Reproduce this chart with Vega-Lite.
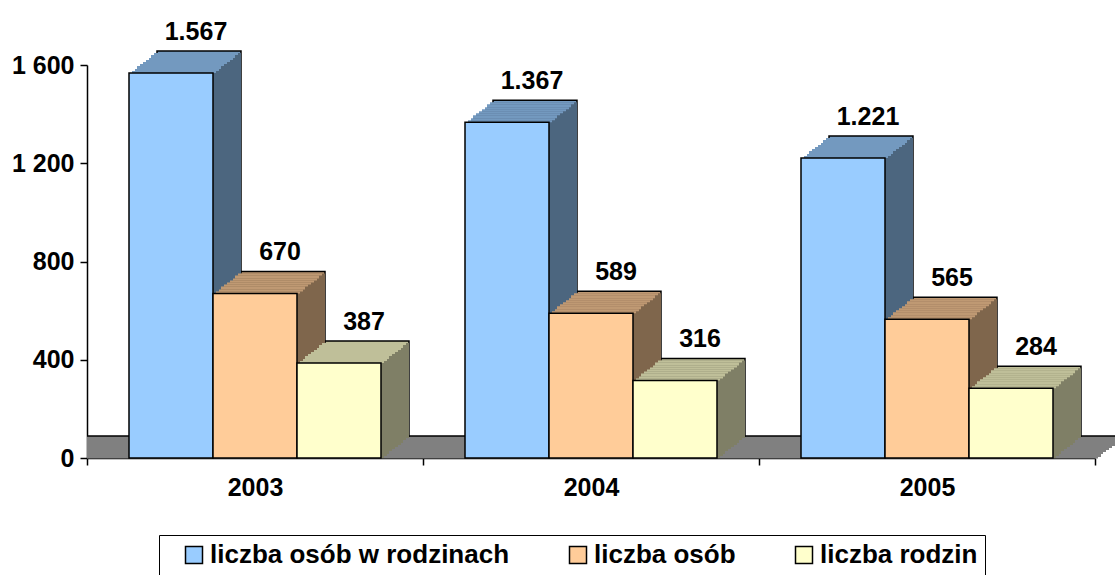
{
  "$schema": "https://vega.github.io/schema/vega-lite/v6.json",
  "width": 1008,
  "height": 393,
  "autosize": "none",
  "padding": {"left": 87, "top": 65, "right": 20, "bottom": 117},
  "background": "white",
  "config": {
    "view": {"stroke": null},
    "font": "Liberation Sans",
    "locale": {"number": {"decimal": ",", "thousands": ".", "grouping": [3], "currency": ["", " zł"]}},
    "axis": {"labelFont": "Liberation Sans", "labelFontWeight": "bold", "labelFontSize": 25, "labelColor": "black", "domainColor": "black", "tickColor": "black", "domainWidth": 1.5, "tickWidth": 1.5, "grid": false, "zindex": 1}
  },
  "datasets": {
    "bars": [
      {"year": "2003", "series": "liczba osób w rodzinach", "value": 1567},
      {"year": "2003", "series": "liczba osób", "value": 670},
      {"year": "2003", "series": "liczba rodzin", "value": 387},
      {"year": "2004", "series": "liczba osób w rodzinach", "value": 1367},
      {"year": "2004", "series": "liczba osób", "value": 589},
      {"year": "2004", "series": "liczba rodzin", "value": 316},
      {"year": "2005", "series": "liczba osób w rodzinach", "value": 1221},
      {"year": "2005", "series": "liczba osób", "value": 565},
      {"year": "2005", "series": "liczba rodzin", "value": 284}
    ],
    "floor": [{"value": 0}]
  },
  "resolve": {"scale": {"color": "independent"}},
  "encoding": {
    "y": {"field": "value", "type": "quantitative", "title": null, "scale": {"domain": [0, 1600], "nice": false}, "axis": {"values": [0, 400, 800, 1200, 1600], "tickSize": 7, "labelExpr": "replace(format(datum.value, ',d'), '.', ' ')", "labelPadding": 6}}
  },
  "layer": [
    {"data": {"name": "floor"}, "layer": [
      {"mark": {"type": "rule", "color": "#808080", "strokeWidth": 3, "xOffset": 28, "yOffset": -20.5}},
      {"mark": {"type": "rule", "color": "#808080", "strokeWidth": 3, "xOffset": 25, "yOffset": -18.5}},
      {"mark": {"type": "rule", "color": "#808080", "strokeWidth": 3, "xOffset": 22, "yOffset": -16.5}},
      {"mark": {"type": "rule", "color": "#808080", "strokeWidth": 3, "xOffset": 20, "yOffset": -13.5}},
      {"mark": {"type": "rule", "color": "#808080", "strokeWidth": 3, "xOffset": 17, "yOffset": -11.5}},
      {"mark": {"type": "rule", "color": "#808080", "strokeWidth": 3, "xOffset": 14, "yOffset": -9.5}},
      {"mark": {"type": "rule", "color": "#808080", "strokeWidth": 3, "xOffset": 11, "yOffset": -7.5}},
      {"mark": {"type": "rule", "color": "#808080", "strokeWidth": 3, "xOffset": 8, "yOffset": -5.5}},
      {"mark": {"type": "rule", "color": "#808080", "strokeWidth": 3, "xOffset": 6, "yOffset": -2.5}},
      {"mark": {"type": "rule", "color": "#808080", "strokeWidth": 3, "xOffset": 3, "yOffset": -1}},
      {"mark": {"type": "rule", "color": "black", "strokeWidth": 1.5, "xOffset": 28, "yOffset": -22}}
    ]},
    {"data": {"name": "bars"},
     "encoding": {
       "x": {"field": "year", "type": "nominal", "title": null, "scale": {"paddingInner": 0, "paddingOuter": 0}, "axis": {"labelAngle": 0, "tickBand": "extent", "tickSize": 7, "labelPadding": 10}}
     },
     "resolve": {"scale": {"color": "independent", "xOffset": "independent"}},
     "layer": [
      {"mark": {"type": "bar", "yOffset": -22, "y2Offset": -22, "stroke": "black", "strokeWidth": 1.5}, "encoding": {"xOffset": {"field": "series", "type": "nominal", "sort": ["liczba osób w rodzinach", "liczba osób", "liczba rodzin"], "scale": {"range": [28, 364], "paddingInner": 0, "paddingOuter": 0.5}}, "color": {"field": "series", "type": "nominal", "scale": {"domain": ["liczba osób w rodzinach", "liczba osób", "liczba rodzin"], "range": ["#7399BF", "#BF9973", "#BFBF99"]}, "legend": null}}},
      {"mark": {"type": "bar", "yOffset": -20, "y2Offset": -20}, "encoding": {"xOffset": {"field": "series", "type": "nominal", "sort": ["liczba osób w rodzinach", "liczba osób", "liczba rodzin"], "scale": {"range": [28, 364], "paddingInner": 0, "paddingOuter": 0.5}}, "color": {"field": "series", "type": "nominal", "scale": {"domain": ["liczba osób w rodzinach", "liczba osób", "liczba rodzin"], "range": ["#4C667F", "#7F664C", "#7F7F66"]}, "legend": null}}},
      {"mark": {"type": "bar", "yOffset": -20, "y2Offset": -20}, "encoding": {"xOffset": {"field": "series", "type": "nominal", "sort": ["liczba osób w rodzinach", "liczba osób", "liczba rodzin"], "scale": {"range": [25, 361], "paddingInner": 0, "paddingOuter": 0.5}}, "color": {"field": "series", "type": "nominal", "scale": {"domain": ["liczba osób w rodzinach", "liczba osób", "liczba rodzin"], "range": ["#7399BF", "#BF9973", "#BFBF99"]}, "legend": null}}},
      {"mark": {"type": "bar", "yOffset": -18, "y2Offset": -18}, "encoding": {"xOffset": {"field": "series", "type": "nominal", "sort": ["liczba osób w rodzinach", "liczba osób", "liczba rodzin"], "scale": {"range": [25, 361], "paddingInner": 0, "paddingOuter": 0.5}}, "color": {"field": "series", "type": "nominal", "scale": {"domain": ["liczba osób w rodzinach", "liczba osób", "liczba rodzin"], "range": ["#4C667F", "#7F664C", "#7F7F66"]}, "legend": null}}},
      {"mark": {"type": "bar", "yOffset": -18, "y2Offset": -18}, "encoding": {"xOffset": {"field": "series", "type": "nominal", "sort": ["liczba osób w rodzinach", "liczba osób", "liczba rodzin"], "scale": {"range": [22, 358], "paddingInner": 0, "paddingOuter": 0.5}}, "color": {"field": "series", "type": "nominal", "scale": {"domain": ["liczba osób w rodzinach", "liczba osób", "liczba rodzin"], "range": ["#7399BF", "#BF9973", "#BFBF99"]}, "legend": null}}},
      {"mark": {"type": "bar", "yOffset": -15, "y2Offset": -15}, "encoding": {"xOffset": {"field": "series", "type": "nominal", "sort": ["liczba osób w rodzinach", "liczba osób", "liczba rodzin"], "scale": {"range": [22, 358], "paddingInner": 0, "paddingOuter": 0.5}}, "color": {"field": "series", "type": "nominal", "scale": {"domain": ["liczba osób w rodzinach", "liczba osób", "liczba rodzin"], "range": ["#4C667F", "#7F664C", "#7F7F66"]}, "legend": null}}},
      {"mark": {"type": "bar", "yOffset": -15, "y2Offset": -15}, "encoding": {"xOffset": {"field": "series", "type": "nominal", "sort": ["liczba osób w rodzinach", "liczba osób", "liczba rodzin"], "scale": {"range": [20, 356], "paddingInner": 0, "paddingOuter": 0.5}}, "color": {"field": "series", "type": "nominal", "scale": {"domain": ["liczba osób w rodzinach", "liczba osób", "liczba rodzin"], "range": ["#7399BF", "#BF9973", "#BFBF99"]}, "legend": null}}},
      {"mark": {"type": "bar", "yOffset": -13, "y2Offset": -13}, "encoding": {"xOffset": {"field": "series", "type": "nominal", "sort": ["liczba osób w rodzinach", "liczba osób", "liczba rodzin"], "scale": {"range": [20, 356], "paddingInner": 0, "paddingOuter": 0.5}}, "color": {"field": "series", "type": "nominal", "scale": {"domain": ["liczba osób w rodzinach", "liczba osób", "liczba rodzin"], "range": ["#4C667F", "#7F664C", "#7F7F66"]}, "legend": null}}},
      {"mark": {"type": "bar", "yOffset": -13, "y2Offset": -13}, "encoding": {"xOffset": {"field": "series", "type": "nominal", "sort": ["liczba osób w rodzinach", "liczba osób", "liczba rodzin"], "scale": {"range": [17, 353], "paddingInner": 0, "paddingOuter": 0.5}}, "color": {"field": "series", "type": "nominal", "scale": {"domain": ["liczba osób w rodzinach", "liczba osób", "liczba rodzin"], "range": ["#7399BF", "#BF9973", "#BFBF99"]}, "legend": null}}},
      {"mark": {"type": "bar", "yOffset": -11, "y2Offset": -11}, "encoding": {"xOffset": {"field": "series", "type": "nominal", "sort": ["liczba osób w rodzinach", "liczba osób", "liczba rodzin"], "scale": {"range": [17, 353], "paddingInner": 0, "paddingOuter": 0.5}}, "color": {"field": "series", "type": "nominal", "scale": {"domain": ["liczba osób w rodzinach", "liczba osób", "liczba rodzin"], "range": ["#4C667F", "#7F664C", "#7F7F66"]}, "legend": null}}},
      {"mark": {"type": "bar", "yOffset": -11, "y2Offset": -11}, "encoding": {"xOffset": {"field": "series", "type": "nominal", "sort": ["liczba osób w rodzinach", "liczba osób", "liczba rodzin"], "scale": {"range": [14, 350], "paddingInner": 0, "paddingOuter": 0.5}}, "color": {"field": "series", "type": "nominal", "scale": {"domain": ["liczba osób w rodzinach", "liczba osób", "liczba rodzin"], "range": ["#7399BF", "#BF9973", "#BFBF99"]}, "legend": null}}},
      {"mark": {"type": "bar", "yOffset": -9, "y2Offset": -9}, "encoding": {"xOffset": {"field": "series", "type": "nominal", "sort": ["liczba osób w rodzinach", "liczba osób", "liczba rodzin"], "scale": {"range": [14, 350], "paddingInner": 0, "paddingOuter": 0.5}}, "color": {"field": "series", "type": "nominal", "scale": {"domain": ["liczba osób w rodzinach", "liczba osób", "liczba rodzin"], "range": ["#4C667F", "#7F664C", "#7F7F66"]}, "legend": null}}},
      {"mark": {"type": "bar", "yOffset": -9, "y2Offset": -9}, "encoding": {"xOffset": {"field": "series", "type": "nominal", "sort": ["liczba osób w rodzinach", "liczba osób", "liczba rodzin"], "scale": {"range": [11, 347], "paddingInner": 0, "paddingOuter": 0.5}}, "color": {"field": "series", "type": "nominal", "scale": {"domain": ["liczba osób w rodzinach", "liczba osób", "liczba rodzin"], "range": ["#7399BF", "#BF9973", "#BFBF99"]}, "legend": null}}},
      {"mark": {"type": "bar", "yOffset": -7, "y2Offset": -7}, "encoding": {"xOffset": {"field": "series", "type": "nominal", "sort": ["liczba osób w rodzinach", "liczba osób", "liczba rodzin"], "scale": {"range": [11, 347], "paddingInner": 0, "paddingOuter": 0.5}}, "color": {"field": "series", "type": "nominal", "scale": {"domain": ["liczba osób w rodzinach", "liczba osób", "liczba rodzin"], "range": ["#4C667F", "#7F664C", "#7F7F66"]}, "legend": null}}},
      {"mark": {"type": "bar", "yOffset": -7, "y2Offset": -7}, "encoding": {"xOffset": {"field": "series", "type": "nominal", "sort": ["liczba osób w rodzinach", "liczba osób", "liczba rodzin"], "scale": {"range": [8, 344], "paddingInner": 0, "paddingOuter": 0.5}}, "color": {"field": "series", "type": "nominal", "scale": {"domain": ["liczba osób w rodzinach", "liczba osób", "liczba rodzin"], "range": ["#7399BF", "#BF9973", "#BFBF99"]}, "legend": null}}},
      {"mark": {"type": "bar", "yOffset": -4, "y2Offset": -4}, "encoding": {"xOffset": {"field": "series", "type": "nominal", "sort": ["liczba osób w rodzinach", "liczba osób", "liczba rodzin"], "scale": {"range": [8, 344], "paddingInner": 0, "paddingOuter": 0.5}}, "color": {"field": "series", "type": "nominal", "scale": {"domain": ["liczba osób w rodzinach", "liczba osób", "liczba rodzin"], "range": ["#4C667F", "#7F664C", "#7F7F66"]}, "legend": null}}},
      {"mark": {"type": "bar", "yOffset": -4, "y2Offset": -4}, "encoding": {"xOffset": {"field": "series", "type": "nominal", "sort": ["liczba osób w rodzinach", "liczba osób", "liczba rodzin"], "scale": {"range": [6, 342], "paddingInner": 0, "paddingOuter": 0.5}}, "color": {"field": "series", "type": "nominal", "scale": {"domain": ["liczba osób w rodzinach", "liczba osób", "liczba rodzin"], "range": ["#7399BF", "#BF9973", "#BFBF99"]}, "legend": null}}},
      {"mark": {"type": "bar", "yOffset": -2, "y2Offset": -2}, "encoding": {"xOffset": {"field": "series", "type": "nominal", "sort": ["liczba osób w rodzinach", "liczba osób", "liczba rodzin"], "scale": {"range": [6, 342], "paddingInner": 0, "paddingOuter": 0.5}}, "color": {"field": "series", "type": "nominal", "scale": {"domain": ["liczba osób w rodzinach", "liczba osób", "liczba rodzin"], "range": ["#4C667F", "#7F664C", "#7F7F66"]}, "legend": null}}},
      {"mark": {"type": "bar", "yOffset": -2, "y2Offset": -2}, "encoding": {"xOffset": {"field": "series", "type": "nominal", "sort": ["liczba osób w rodzinach", "liczba osób", "liczba rodzin"], "scale": {"range": [3, 339], "paddingInner": 0, "paddingOuter": 0.5}}, "color": {"field": "series", "type": "nominal", "scale": {"domain": ["liczba osób w rodzinach", "liczba osób", "liczba rodzin"], "range": ["#7399BF", "#BF9973", "#BFBF99"]}, "legend": null}}},
      {"mark": {"type": "bar"}, "encoding": {"xOffset": {"field": "series", "type": "nominal", "sort": ["liczba osób w rodzinach", "liczba osób", "liczba rodzin"], "scale": {"range": [3, 339], "paddingInner": 0, "paddingOuter": 0.5}}, "color": {"field": "series", "type": "nominal", "scale": {"domain": ["liczba osób w rodzinach", "liczba osób", "liczba rodzin"], "range": ["#4C667F", "#7F664C", "#7F7F66"]}, "legend": null}}},
      {"mark": {"type": "bar", "stroke": "black", "strokeWidth": 1.5},
       "encoding": {"xOffset": {"field": "series", "type": "nominal", "sort": ["liczba osób w rodzinach", "liczba osób", "liczba rodzin"], "scale": {"range": [0, 336], "paddingInner": 0, "paddingOuter": 0.5}},
         "color": {"field": "series", "type": "nominal", "scale": {"domain": ["liczba osób w rodzinach", "liczba osób", "liczba rodzin"], "range": ["#99CCFF", "#FFCC99", "#FFFFCC"]},
         "legend": {"title": null, "orient": "none", "direction": "horizontal", "legendX": 72, "legendY": 470, "labelFont": "Liberation Sans", "labelFontWeight": "bold", "labelFontSize": 26, "labelColor": "black", "symbolType": "square", "symbolSize": 289, "symbolStrokeColor": "black", "symbolStrokeWidth": 1.5, "symbolOffset": 15, "labelOffset": 3, "columnPadding": 40, "padding": 7, "strokeColor": "black", "labelLimit": 400}}}},
      {"mark": {"type": "text", "fontWeight": "bold", "fontSize": 25, "baseline": "alphabetic", "dy": -33, "dx": 25, "color": "black"},
       "encoding": {"xOffset": {"field": "series", "type": "nominal", "sort": ["liczba osób w rodzinach", "liczba osób", "liczba rodzin"], "scale": {"type": "band", "range": [0, 336], "paddingInner": 0, "paddingOuter": 0.5}},
         "text": {"field": "value", "type": "quantitative", "format": ",d"}}}
     ]}
  ]
}
